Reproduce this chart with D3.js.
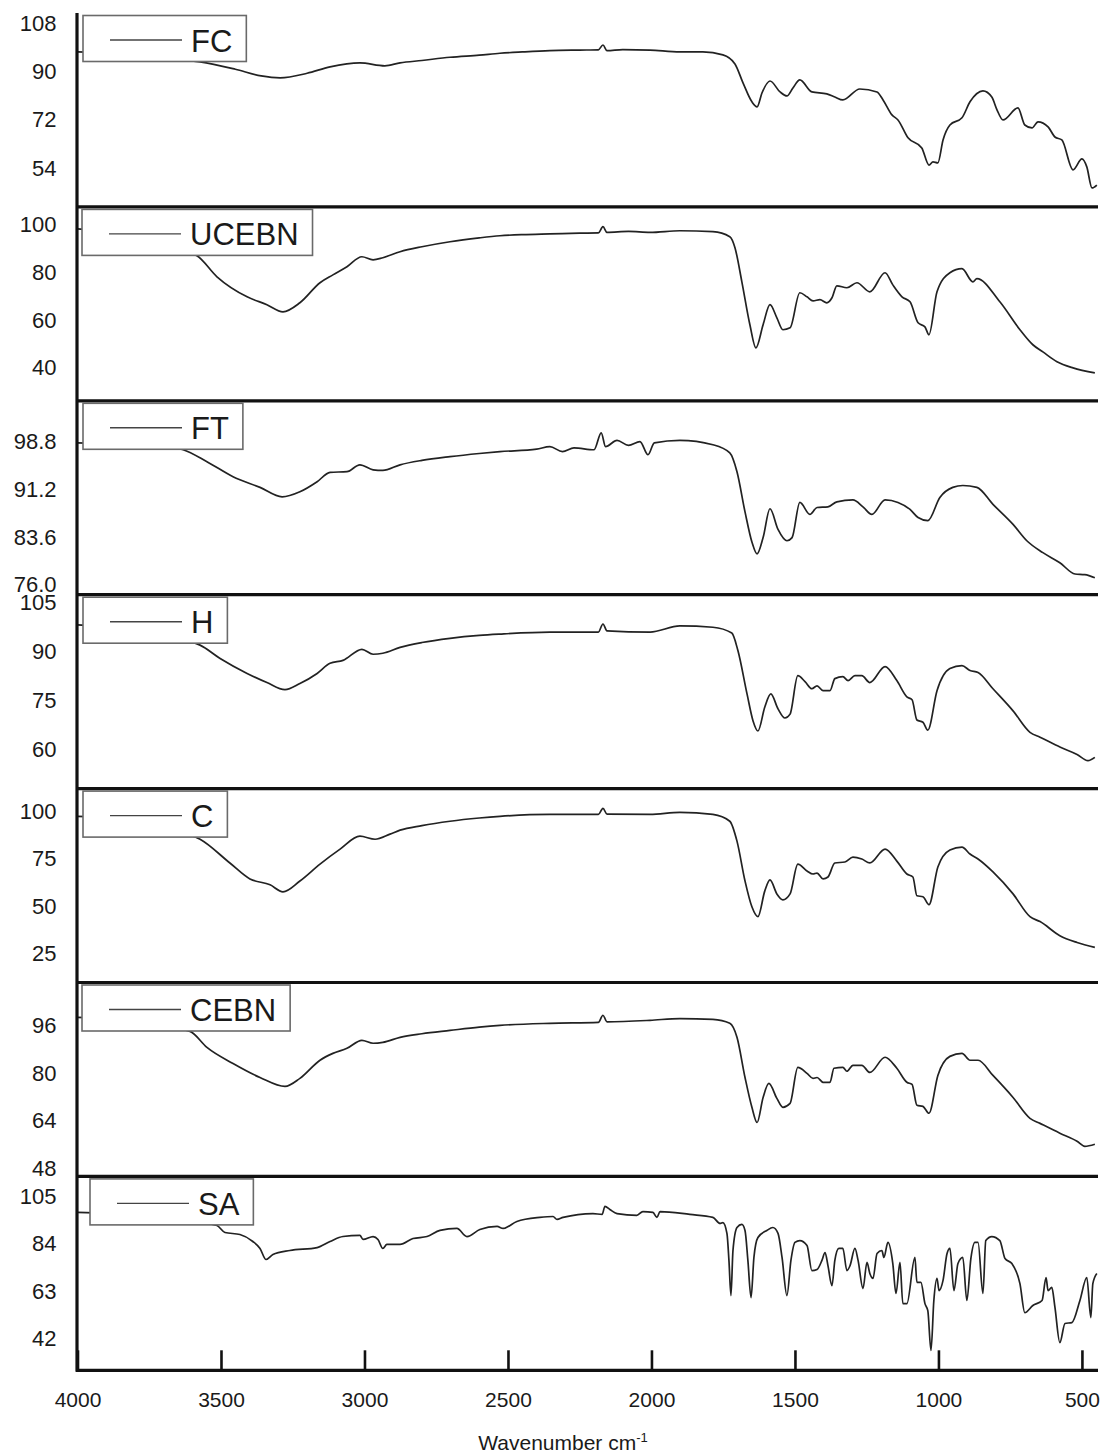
<!DOCTYPE html>
<html>
<head>
<meta charset="utf-8">
<script src="https://cdn.jsdelivr.net/npm/d3@7/dist/d3.min.js"></script>
<style>
	body { margin: 0; background: #ffffff; }
	svg text { font-family: Arial, "Liberation Sans", sans-serif; fill: #1a1a1a; }
</style>
</head>
<body>
<svg id="chart" width="1105" height="1455"></svg>
<script>
// samples, from top panel to bottom panel
var sampleNames = ["FC", "UCEBN", "FT", "H", "C", "CEBN", "SA"];

// y range and tick labels of each panel (transmittance, %)
var yDomains = [[39.4, 112.1], [26.2, 107.5], [74.4, 105.3], [47.9, 107.5], [9.8, 112], [45.3, 110.4], [27.8, 113.9]];
var yTickValues = [
	[54, 72, 90, 108],
	[40, 60, 80, 100],
	[76.0, 83.6, 91.2, 98.8],
	[60, 75, 90, 105],
	[25, 50, 75, 100],
	[48, 64, 80, 96],
	[42, 63, 84, 105]
];
var yTickFormats = ["d", "d", ".1f", "d", "d", "d", "d"];

// wavenumber axis
var xDomain = [4000, 444];
var xTickValues = [4000, 3500, 3000, 2500, 2000, 1500, 1000, 500];

// spectra: [wavenumber, transmittance]
var FC = [[4000,97.5],[3900,97],[3800,96],[3700,95],[3573,93.8],[3450,91],[3360,88.5],[3294,87.8],[3200,89.5],[3120,91.9],[3016,93.4],[2929,92.3],[2876,93.4],[2800,94.3],[2702,95.5],[2600,96.3],[2528,97],[2450,97.5],[2354,98],[2250,98.2],[2185,98.3],[2169,100.1],[2155,98],[2100,98.4],[2005,98.2],[1901,97.5],[1821,97.5],[1751,96.4],[1709,93],[1681,85.9],[1650,78.8],[1632,76.9],[1615,82.1],[1587,86.6],[1552,82.5],[1528,81],[1507,84],[1483,87],[1441,82.5],[1389,81.8],[1361,80.6],[1333,79.5],[1274,83.6],[1214,82.5],[1193,79.5],[1162,73.9],[1141,72],[1106,65.3],[1058,61.5],[1033,55.1],[1019,56.3],[1002,55.9],[984,64.5],[960,70.1],[918,72.8],[890,78.8],[845,82.9],[814,80.6],[796,75.8],[775,72],[723,76.5],[699,70.1],[674,69],[653,71.3],[618,69.4],[594,65.6],[570,64.5],[531,53.3],[500,57.4],[483,54.4],[465,46.5],[448,47.6]];
var UCEBN = [[4000,98.3],[3900,97],[3800,94],[3700,91],[3584,87],[3514,78.2],[3409,69.8],[3340,66.5],[3284,63.5],[3225,67.3],[3155,75.7],[3110,79],[3061,82.4],[3009,86.6],[2970,85.3],[2936,86.2],[2876,88.7],[2800,90.8],[2702,92.9],[2600,94.5],[2528,95.4],[2450,95.9],[2354,96.2],[2250,96.5],[2185,96.6],[2169,99.2],[2155,96.8],[2080,97.2],[2005,96.8],[1901,97.5],[1786,97.1],[1727,95],[1709,90.4],[1685,76.1],[1657,58.1],[1636,48.4],[1611,58.1],[1587,66.5],[1563,61],[1542,56],[1517,56.8],[1483,71.5],[1458,69.8],[1437,68.1],[1413,68.6],[1389,67.3],[1371,69.4],[1354,74.4],[1319,73.6],[1284,75.7],[1239,71.9],[1186,79.9],[1159,74.8],[1127,69.8],[1099,67.7],[1071,58.9],[1047,57.2],[1033,53.9],[1005,71.9],[960,79.9],[918,81.6],[880,76.1],[866,77.4],[786,67.7],[716,56],[671,49.7],[636,46.7],[587,42.6],[531,40],[455,37.9]];
var FT = [[4000,98.6],[3900,98.5],[3800,98.3],[3700,98],[3632,97.5],[3549,95.6],[3458,93.2],[3364,91.5],[3287,90],[3225,90.8],[3165,92.4],[3120,93.9],[3061,94],[3016,95.1],[2970,94.3],[2936,94.2],[2876,95.1],[2800,95.8],[2702,96.4],[2600,96.9],[2528,97.2],[2400,97.6],[2354,98],[2310,97.2],[2270,97.8],[2200,97.5],[2175,100.2],[2160,98],[2120,99],[2080,98.2],[2040,98.8],[2012,96.7],[1990,98.6],[1901,99],[1786,98.3],[1727,97],[1702,94],[1674,87.6],[1650,82.8],[1632,80.9],[1611,83.5],[1587,88.1],[1559,84.8],[1528,83],[1510,83.5],[1483,89.1],[1448,87.2],[1423,88.3],[1385,88.4],[1354,89.2],[1298,89.5],[1263,88.4],[1232,87.2],[1186,89.5],[1141,89.1],[1099,88],[1071,86.7],[1037,86.2],[995,89.9],[950,91.5],[915,91.8],[866,91.5],[810,88.8],[740,85.6],[692,83],[636,81.1],[577,79.5],[524,77.7],[490,77.6],[455,77.1]];
var H = [[4000,98.2],[3900,97.5],[3800,96],[3700,94.5],[3573,92],[3503,87.9],[3409,83.3],[3340,80.5],[3277,78.3],[3225,80.2],[3165,83.3],[3120,86.4],[3075,87.3],[3009,90.7],[2970,89.2],[2936,89.5],[2876,91.3],[2800,92.8],[2702,94.1],[2600,95],[2528,95.4],[2354,96],[2185,96],[2169,98.5],[2155,96.4],[2005,96],[1901,97.9],[1786,97.5],[1720,95.7],[1699,90.4],[1667,77],[1646,68.7],[1629,65.6],[1605,73],[1584,77],[1559,72.4],[1535,69.6],[1517,70.8],[1490,82.6],[1465,80.8],[1441,78.6],[1423,79.5],[1402,78],[1378,78],[1361,81.7],[1333,82.3],[1315,81.1],[1291,82.6],[1267,82.6],[1239,80.5],[1186,85.4],[1145,81.1],[1110,76.1],[1092,75.2],[1075,69],[1054,68.3],[1037,65.9],[1005,78],[960,84.8],[918,85.7],[890,84.2],[862,83.6],[810,78.6],[740,71.8],[681,65.2],[646,63.7],[575,60.6],[517,58.4],[479,56.5],[455,57.5]];
var C = [[4000,97.4],[3900,96.5],[3800,94],[3700,90.5],[3573,85.3],[3469,72.8],[3399,64.4],[3329,61.3],[3284,57.6],[3225,63.3],[3155,72.2],[3085,80.1],[3016,86.9],[2963,85.3],[2911,88],[2876,90.1],[2800,92.5],[2702,94.8],[2600,96.5],[2528,97.4],[2354,98.4],[2185,98.4],[2169,101.6],[2155,98.5],[2005,98.4],[1901,99.5],[1786,98.4],[1727,94.8],[1702,84.3],[1674,63.3],[1650,49.7],[1629,44.5],[1605,58.1],[1587,63.9],[1563,56.5],[1542,53.4],[1517,56.5],[1490,72.2],[1458,68.6],[1437,67],[1423,67.5],[1402,64.4],[1385,65.4],[1361,72.8],[1326,73.3],[1298,75.9],[1267,74.9],[1239,72.8],[1186,80.1],[1145,73.8],[1110,67],[1089,65.4],[1075,55.5],[1054,55],[1033,50.8],[1002,70.7],[960,79.6],[918,81.2],[890,77.5],[862,74.9],[810,68.1],[740,56.5],[681,44.5],[646,41.9],[577,34.5],[517,30.9],[455,28.3]];
var CEBN = [[4000,98.7],[3900,98.2],[3800,97],[3700,95.5],[3608,94],[3549,88.6],[3458,83.2],[3364,78.5],[3277,75.5],[3225,78.2],[3155,84.3],[3110,86.6],[3061,88.3],[3009,91],[2970,90],[2936,90.3],[2876,92],[2800,93.2],[2702,94.3],[2600,95.4],[2528,96],[2354,96.7],[2185,97],[2169,99.4],[2155,97.2],[2005,97.7],[1901,98.3],[1786,98],[1727,96.7],[1702,92],[1674,78.5],[1650,68.5],[1632,63.4],[1611,71.8],[1591,76.5],[1563,71.5],[1542,68.5],[1517,69.8],[1490,81.9],[1458,79.9],[1437,78.2],[1423,78.5],[1402,76.9],[1378,76.9],[1364,81.6],[1333,81.9],[1319,80.6],[1298,82.6],[1267,82.6],[1239,80.2],[1186,85.3],[1145,81.6],[1110,76.9],[1092,76.2],[1075,69.2],[1054,68.8],[1033,66.5],[1002,79.2],[960,85.6],[918,86.6],[890,84.3],[862,84.3],[810,79.2],[740,71.8],[681,64.8],[646,63.1],[577,59.8],[517,57.1],[490,55.4],[455,56.1]];
var SA = [[4000,97.9],[3900,97.5],[3800,96.5],[3700,95.5],[3600,94],[3514,92.1],[3486,89],[3434,88.1],[3389,85],[3364,81.9],[3343,77],[3319,79.2],[3260,81],[3165,82.3],[3120,85],[3075,87.2],[3016,87.7],[3005,85.9],[2970,87.2],[2953,85.9],[2936,81.9],[2922,83.7],[2876,83.7],[2831,86.3],[2782,87.2],[2737,89.9],[2678,90.8],[2643,87.2],[2598,90.3],[2538,91.7],[2517,90.8],[2469,93.9],[2389,95.7],[2343,96.1],[2329,94.8],[2308,95.7],[2204,97.4],[2172,97],[2162,100.6],[2145,99.2],[2120,97.4],[2051,96.6],[2030,98.3],[1995,97.9],[1981,95.7],[1970,98.3],[1866,97],[1786,95.7],[1761,93],[1751,93.4],[1737,88.6],[1730,76.6],[1723,61],[1716,81],[1702,91.2],[1685,92.6],[1674,89.9],[1664,76.6],[1653,60.1],[1643,77.9],[1629,86.8],[1598,89.9],[1577,91.2],[1559,88.6],[1545,77.9],[1528,61],[1514,76.6],[1500,84.6],[1483,85.4],[1458,83.2],[1441,72.1],[1423,72.6],[1406,76.6],[1395,80.1],[1385,74.3],[1371,65.4],[1361,76.6],[1347,81.9],[1333,81.9],[1319,72.1],[1308,74.3],[1291,81.9],[1280,76.6],[1263,64.1],[1249,75.7],[1239,70.8],[1228,68.6],[1214,79.7],[1197,81],[1190,77.9],[1176,84.6],[1159,75.2],[1148,61.9],[1134,75.7],[1124,57.4],[1110,57.4],[1082,77.9],[1075,66.8],[1061,66.8],[1047,57.4],[1037,54.3],[1026,36.6],[1016,58.8],[1005,68.6],[998,63.2],[984,67.7],[970,79.7],[960,81.9],[946,63.2],[932,75.2],[915,77.9],[901,58.8],[887,77.4],[873,84.6],[862,84.6],[845,61.9],[835,85.4],[814,87.2],[786,85.4],[768,77.4],[744,75.2],[716,66.3],[699,53.4],[671,56.6],[639,58.8],[625,69],[618,63.2],[605,64.6],[594,55.7],[577,40.1],[559,48.6],[535,49],[507,58.8],[483,69],[469,51.2],[462,66.3],[448,70.8]];

var spectra = [FC, UCEBN, FT, H, C, CEBN, SA];

var StackedSpectra = {
	left: 77.5,
	right: 1098,
	top: 13,
	panelHeight: 193.9,
	legendX: [83, 82, 83, 83, 83, 82, 90],

	render: function(svg) {
		var self = this;

		var xScale = d3.scaleLinear()
			.domain(xDomain)
			.range([self.left, self.right]);

		sampleNames.forEach(function(name, i) {
			var panelTop = self.top + i * self.panelHeight;
			var panelBottom = panelTop + self.panelHeight;

			var yScale = d3.scaleLinear()
				.domain(yDomains[i])
				.range([panelBottom, panelTop]);

			var group = svg.append("g").attr("class", "panel panel-" + i);

			// spectrum
			var line = d3.line()
				.x(function(d) { return xScale(d[0]); })
				.y(function(d) { return yScale(d[1]); })
				.curve(d3.curveMonotoneX);
			group.append("path")
				.datum(spectra[i])
				.attr("d", line)
				.style("fill", "none")
				.style("stroke", "#222")
				.style("stroke-width", 1.7)
				.style("stroke-linejoin", "round");

			// y axis labels (no visible ticks)
			var yAxis = d3.axisLeft(yScale)
				.tickValues(yTickValues[i])
				.tickFormat(d3.format(yTickFormats[i]))
				.tickSize(0)
				.tickPadding(21);
			var yAxisGroup = group.append("g")
				.attr("class", "axis y")
				.attr("transform", "translate(" + self.left + ",0)")
				.call(yAxis);
			yAxisGroup.select(".domain").remove();
			yAxisGroup.selectAll("text")
				.style("font-size", "22px")
				.style("fill", "#1a1a1a");

			// legend box covers start of the curve
			var legend = group.append("g")
				.attr("transform", "translate(" + self.legendX[i] + "," + (panelTop + 2.5) + ")");
			var legendRect = legend.append("rect")
				.attr("x", 0)
				.attr("y", 0)
				.attr("height", 46)
				.style("fill", "#fff")
				.style("stroke", "#6a6a6a")
				.style("stroke-width", 1.6);
			legend.append("line")
				.attr("x1", 27)
				.attr("x2", 99)
				.attr("y1", 24.5)
				.attr("y2", 24.5)
				.style("stroke", "#444")
				.style("stroke-width", 1.4);
			var legendText = legend.append("text")
				.attr("x", 108)
				.attr("y", 36)
				.style("font-size", "31px")
				.text(name);
			var textWidth = legendText.node().getComputedTextLength();
			legendRect.attr("width", 108 + textWidth + 14);

			// panel baseline
			group.append("line")
				.attr("x1", self.left - 1.5)
				.attr("x2", self.right)
				.attr("y1", panelBottom)
				.attr("y2", panelBottom)
				.style("stroke", "#111")
				.style("stroke-width", 3.2);
		});

		var plotBottom = self.top + sampleNames.length * self.panelHeight;

		// x axis with inward ticks on bottom panel
		var xAxis = d3.axisBottom(xScale)
			.tickValues(xTickValues)
			.tickFormat(d3.format("d"))
			.tickSize(-20)
			.tickPadding(22);
		var xAxisGroup = svg.append("g")
			.attr("class", "axis x")
			.attr("transform", "translate(0," + plotBottom + ")")
			.call(xAxis);
		xAxisGroup.select(".domain").remove();
		xAxisGroup.selectAll(".tick line")
			.style("stroke", "#111")
			.style("stroke-width", 2.6);
		xAxisGroup.selectAll("text")
			.style("font-size", "21px")
			.style("fill", "#1a1a1a");

		// left axis line
		svg.append("line")
			.attr("x1", self.left - 0.5)
			.attr("x2", self.left - 0.5)
			.attr("y1", self.top)
			.attr("y2", plotBottom + 1.5)
			.style("stroke", "#111")
			.style("stroke-width", 3.2);

		// axis title
		var title = svg.append("text")
			.attr("x", 563)
			.attr("y", 1450)
			.style("text-anchor", "middle")
			.style("font-size", "21px");
		title.append("tspan").text("Wavenumber cm");
		title.append("tspan")
			.attr("dy", -8)
			.style("font-size", "13px")
			.text("-1");
	}
};

StackedSpectra.render(d3.select("#chart"));
</script>
</body>
</html>
